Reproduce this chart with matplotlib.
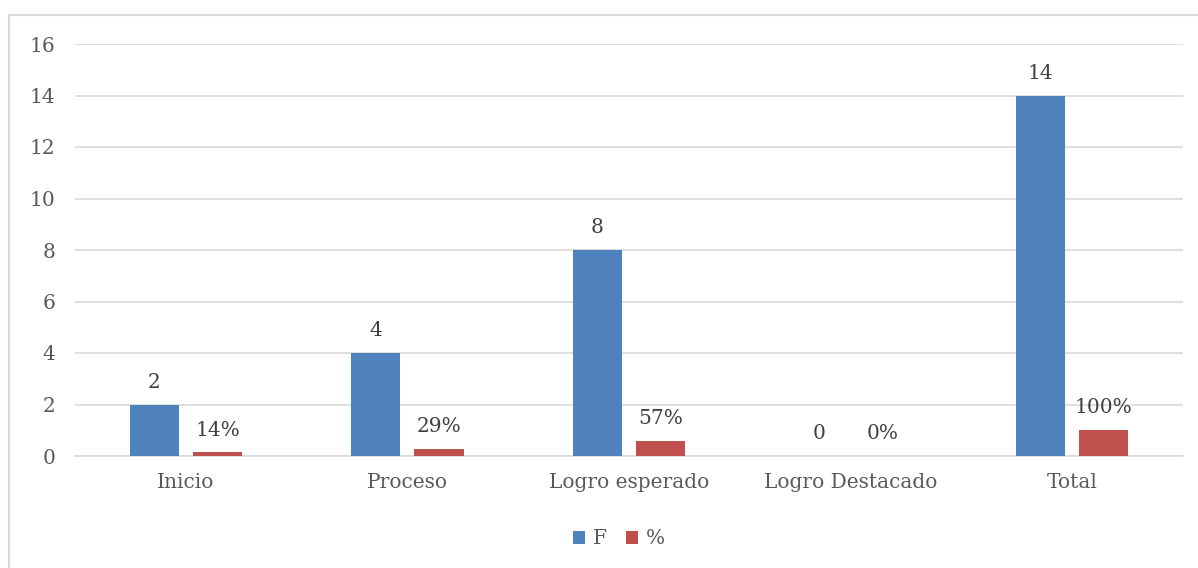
import matplotlib
matplotlib.use("Agg")
import matplotlib.pyplot as plt
import numpy as np
from matplotlib.patches import Rectangle

categories = ["Inicio", "Proceso", "Logro esperado", "Logro Destacado", "Total"]
f_values = [2, 4, 8, 0, 14]
pct_values = [0.14, 0.29, 0.57, 0.0, 1.0]
f_labels = ["2", "4", "8", "0", "14"]
pct_labels = ["14%", "29%", "57%", "0%", "100%"]
yticks = [0, 2, 4, 6, 8, 10, 12, 14, 16]

blue = "#4F81BD"
red = "#C0504D"
txt = "#595959"
lbl = "#404040"

plt.rcParams['font.family'] = ['DejaVu Serif']

fig = plt.figure(figsize=(11.98, 5.68), dpi=100)
fig.patches.append(Rectangle((8.5/1198, -20/568), 1250/1198, (553+20)/568, transform=fig.transFigure,
                             fill=False, edgecolor="#D9D9D9", linewidth=1.5, clip_on=False))
ax = fig.add_axes([75/1198, 1 - 456/568, (1183-75)/1198, (456-44)/568])

x = np.arange(len(categories))
bw = 0.222
off = 0.1425
b1 = ax.bar(x - off, f_values, bw, color=blue, label="F", zorder=3)
b2 = ax.bar(x + off, pct_values, bw, color=red, label="%", zorder=3)

for xi, v, l in zip(x, f_values, f_labels):
    ax.text(xi - off, v + 0.5, l, ha="center", va="bottom", fontsize=14.5, color=lbl)
for xi, v, l in zip(x, pct_values, pct_labels):
    ax.text(xi + off, v + 0.5, l, ha="center", va="bottom", fontsize=14.5, color=lbl)

ax.set_xlim(-0.5, len(categories) - 0.5)
ax.set_ylim(0, 16)
ax.set_yticks(yticks)
ax.set_yticklabels([str(t) for t in yticks])
ax.set_xticks(x)
ax.set_xticklabels(categories)
ax.tick_params(axis="both", length=0, labelsize=14.5, colors=txt)
ax.tick_params(axis="y", pad=14)
ax.tick_params(axis="x", pad=12)
ax.grid(axis="y", color="#D9D9D9", linewidth=1.2, zorder=0)
for s in ["top", "right", "left"]:
    ax.spines[s].set_visible(False)
ax.spines["bottom"].set_color("#D9D9D9")
ax.spines["bottom"].set_linewidth(1.2)

leg = fig.legend(handles=[b1, b2], labels=["F", "%"], loc="center", bbox_to_anchor=(619/1198, 1 - 539/568),
                 ncol=2, frameon=False, fontsize=14.5, handlelength=0.6, handleheight=0.6,
                 handletextpad=0.4, columnspacing=0.9)
for t in leg.get_texts():
    t.set_color(txt)

fig.savefig("out.png", dpi=100)
